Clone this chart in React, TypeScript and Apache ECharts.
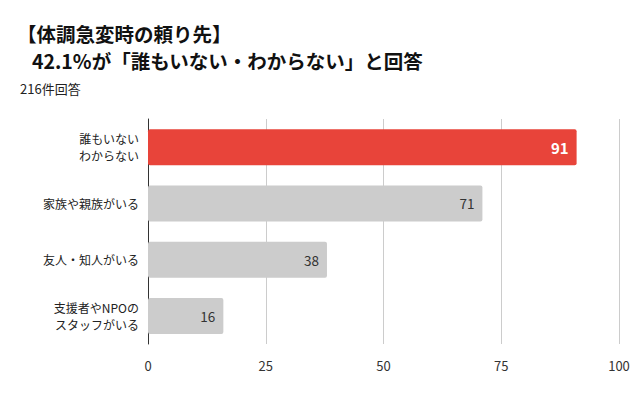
import React, { useEffect, useRef } from "react";
import * as echarts from "echarts";

const categories = ["誰もいない\nわからない", "家族や親族がいる", "友人・知人がいる", "支援者やNPOの\nスタッフがいる"];
const counts = [91, 71, 38, 16];
const barColors = ["#e8443a", "#cccccc", "#cccccc", "#cccccc"];
const labelColors = ["#ffffff", "#333333", "#333333", "#333333"];
const labelWeights = ["bold", "normal", "normal", "normal"];
const titleLines = ["【体調急変時の頼り先】", "42.1%が「誰もいない・わからない」と回答"];
const responseNote = "216件回答";

const FONT = "'Noto Sans CJK JP', 'Noto Sans', sans-serif";

export default function App() {
  const ref = useRef<HTMLDivElement>(null);

  useEffect(() => {
    if (!ref.current) return;
    const chart = echarts.init(ref.current, null, { renderer: "svg" });
    chart.setOption({
      animation: false,
      backgroundColor: "#ffffff",
      textStyle: { fontFamily: FONT },
      title: [
        {
          text: titleLines[0],
          left: 17,
          top: 22,
          padding: 0,
          textStyle: { fontSize: 19.5, lineHeight: 22, fontWeight: "bold", color: "#111", fontFamily: FONT },
        },
        {
          text: titleLines[1],
          left: 32,
          top: 49,
          padding: 0,
          textStyle: { fontSize: 19.5, lineHeight: 22, fontWeight: "bold", color: "#111", fontFamily: FONT },
        },
        {
          text: responseNote,
          left: 20,
          top: 81,
          padding: 0,
          textStyle: { fontSize: 13, lineHeight: 15, fontWeight: "normal", color: "#222", fontFamily: FONT },
        },
      ],
      grid: { left: 148, right: 21, top: 119, bottom: 52, containLabel: false },
      xAxis: {
        type: "value",
        min: 0,
        max: 100,
        interval: 25,
        axisLine: { show: false },
        axisTick: { show: false },
        splitLine: { show: true, lineStyle: { color: "#cccccc", width: 1 } },
        axisLabel: { color: "#333", fontSize: 13, margin: 15, fontFamily: FONT },
      },
      yAxis: {
        type: "category",
        inverse: true,
        data: categories,
        axisLine: { show: true, lineStyle: { color: "#333", width: 1 } },
        axisTick: { show: false },
        axisLabel: { color: "#222", fontSize: 12, margin: 9, lineHeight: 17, align: "right", fontFamily: FONT },
      },
      series: [
        {
          type: "bar",
          barWidth: 36,
          data: counts.map((v, i) => ({
            value: v,
            itemStyle: { color: barColors[i], borderRadius: 2 },
            label: {
              show: true,
              position: "insideRight",
              distance: 8,
              color: labelColors[i],
              fontWeight: labelWeights[i],
              fontSize: i === 0 ? 15 : 13.5,
              fontFamily: FONT,
            },
          })),
        },
      ],
    });
    return () => chart.dispose();
  }, []);

  return <div ref={ref} style={{ width: 640, height: 396, marginLeft: -8, marginTop: -8 }} />;
}
